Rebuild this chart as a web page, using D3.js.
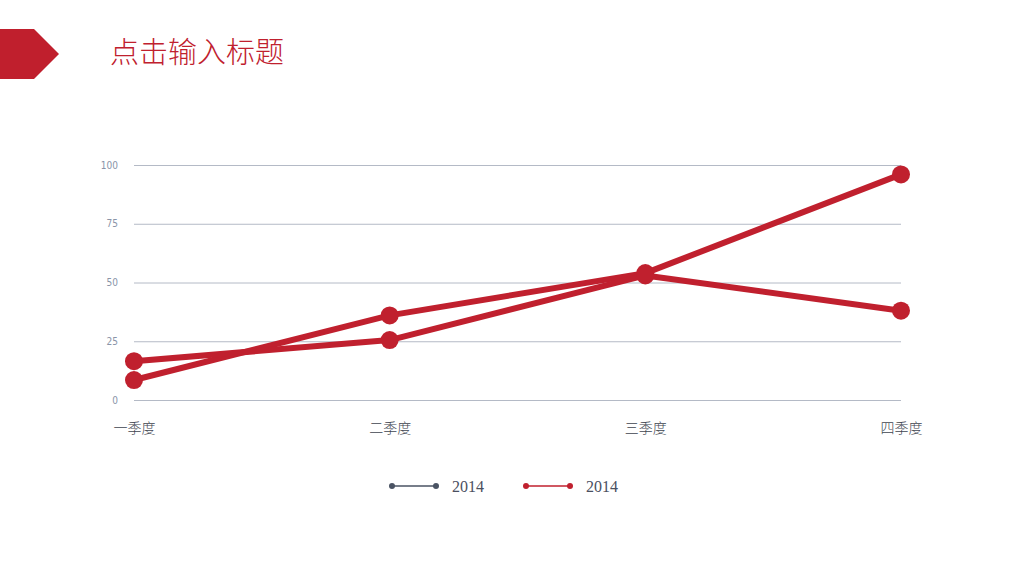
<!DOCTYPE html>
<html>
<head>
<meta charset="utf-8">
<script src="https://cdn.jsdelivr.net/npm/d3@7/dist/d3.min.js"></script>
<style>
html,body{margin:0;padding:0;background:#fff;}
svg{display:block;}
</style>
</head>
<body>
<svg id="chart" width="1024" height="576"></svg>
<script>
const title = "点击输入标题";
const categories = ["一季度", "二季度", "三季度", "四季度"];
const seriesNames = ["2014", "2014"];
const seriesA = [8.5, 36, 54, 96];
const seriesB = [16.5, 25.5, 53, 38];
const yTicks = [0, 25, 50, 75, 100];
const legendColors = ["#4a5363", "#c0202e"];
const lineColor = "#c0202e";

const svg = d3.select("#chart");

// header arrow shape
svg.append("path")
  .attr("d", "M0,29 L34,29 L59,54 L34,79 L0,79 Z")
  .attr("fill", "#c01f2d");

svg.append("text")
  .attr("x", 110).attr("y", 63)
  .attr("font-family", "'Noto Sans CJK SC', sans-serif")
  .attr("font-weight", 300)
  .attr("font-size", 29)
  .attr("fill", "#c0202e")
  .text(title);

const x = d3.scalePoint().domain(categories).range([134, 901]);
const y = d3.scaleLinear().domain([0, 100]).range([400, 165]);

// gridlines
const yAxis = d3.axisLeft(y).tickValues(yTicks).tickSize(-(901 - 134)).tickPadding(16);
const gy = svg.append("g").attr("transform", "translate(134,0)").call(yAxis);
gy.select(".domain").remove();
gy.selectAll(".tick line").attr("stroke", "#b4bac6").attr("stroke-width", 1);
gy.selectAll(".tick text")
  .attr("fill", "#8a94a8")
  .attr("font-family", "'Liberation Sans Narrow', 'DejaVu Sans Condensed', sans-serif")
  .attr("font-size", 10);

const xAxis = d3.axisBottom(x).tickSize(0).tickPadding(0);
const gx = svg.append("g").attr("transform", "translate(0,433)").call(xAxis);
gx.select(".domain").remove();
gx.selectAll(".tick text")
  .attr("fill", "#404550")
  .attr("font-family", "'Noto Sans CJK SC', sans-serif")
  .attr("font-weight", 300)
  .attr("font-size", 14)
  .attr("dy", 0)
  .attr("y", 0);

const line = d3.line().x((d, i) => x(categories[i])).y(d => y(d));

[seriesA, seriesB].forEach(s => {
  svg.append("path")
    .datum(s)
    .attr("d", line)
    .attr("fill", "none")
    .attr("stroke", lineColor)
    .attr("stroke-width", 6)
    .attr("stroke-linejoin", "round");
});
[seriesA, seriesB].forEach(s => {
  svg.selectAll(null)
    .data(s)
    .enter().append("circle")
    .attr("cx", (d, i) => x(categories[i]))
    .attr("cy", d => y(d))
    .attr("r", 9)
    .attr("fill", lineColor);
});

// legend
const legendX = [392, 526];
seriesNames.forEach((n, i) => {
  const g = svg.append("g").attr("transform", `translate(${legendX[i]},486)`);
  g.append("line").attr("x1", 0).attr("x2", 44).attr("y1", 0).attr("y2", 0)
    .attr("stroke", legendColors[i]).attr("stroke-width", 1.5);
  g.append("circle").attr("cx", 0).attr("cy", 0).attr("r", 3).attr("fill", legendColors[i]);
  g.append("circle").attr("cx", 44).attr("cy", 0).attr("r", 3).attr("fill", legendColors[i]);
  g.append("text").attr("x", 60).attr("y", 6)
    .attr("font-family", "'Liberation Serif', 'DejaVu Serif', serif")
    .attr("font-size", 16)
    .attr("fill", "#4a5060")
    .text(n);
});
</script>
</body>
</html>
